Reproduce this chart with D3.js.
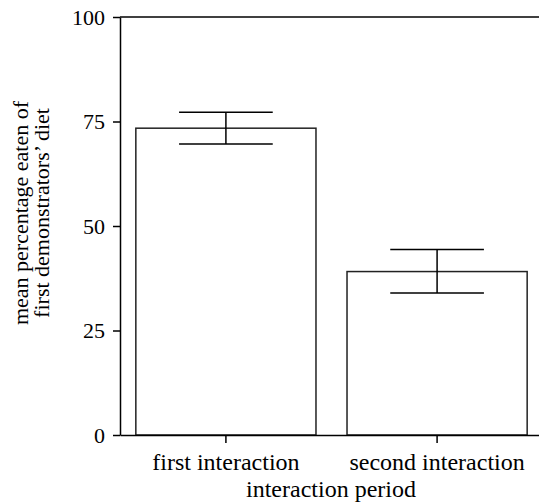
<!DOCTYPE html>
<html>
<head>
<meta charset="utf-8">
<script src="https://cdn.jsdelivr.net/npm/d3@7"></script>
<style>
    body { margin: 0; background: #fff; }
    svg { display: block; }
    .axis text { font-family: "Liberation Serif", "Times New Roman", serif; font-size: 22px; fill: #000; }
    .axis.x text { font-size: 24px; }
    .axis path, .axis line { stroke: #000; stroke-width: 1.5; }
    .label { font-family: "Liberation Serif", "Times New Roman", serif; font-size: 22px; fill: #000; }
</style>
</head>
<body>
<div id="chart"></div>
<script>
// Data
const categories = ["first interaction", "second interaction"];
const means = [73.4, 39.1];
const errLow = [69.6, 34.0];
const errHigh = [77.2, 44.4];
const yTicks = [0, 25, 50, 75, 100];

const dataset = categories.map((c, i) => ({
    category: c,
    mean: means[i],
    low: errLow[i],
    high: errHigh[i]
}));

// Dimensions
const width = 539;
const height = 503;
const plot = { left: 120, right: 543, top: 17, bottom: 435 };

const svg = d3.select("#chart")
    .append("svg")
    .attr("width", width)
    .attr("height", height);

// Scales
const xScale = d3.scaleBand()
    .domain(categories)
    .range([plot.left, plot.right])
    .paddingInner(0.147)
    .paddingOuter(0.075);

const yScale = d3.scaleLinear()
    .domain([0, 100])
    .range([plot.bottom, plot.top]);

// Top frame line
svg.append("line")
    .attr("x1", plot.left)
    .attr("x2", width)
    .attr("y1", yScale(100))
    .attr("y2", yScale(100))
    .attr("stroke", "#000")
    .attr("stroke-width", 1.5);

// Bars
svg.append("g")
    .selectAll("rect")
    .data(dataset)
    .join("rect")
        .attr("x", d => xScale(d.category))
        .attr("y", d => yScale(d.mean))
        .attr("width", xScale.bandwidth())
        .attr("height", d => yScale(0) - yScale(d.mean))
        .attr("fill", "#fff")
        .attr("stroke", "#222")
        .attr("stroke-width", 1.5);

// Error bars
const capHalf = xScale.bandwidth() * 0.26;
const errors = svg.append("g")
    .selectAll("g")
    .data(dataset)
    .join("g")
    .attr("stroke", "#000")
    .attr("stroke-width", 1.5);

errors.append("line")
    .attr("x1", d => xScale(d.category) + xScale.bandwidth() / 2)
    .attr("x2", d => xScale(d.category) + xScale.bandwidth() / 2)
    .attr("y1", d => yScale(d.high))
    .attr("y2", d => yScale(d.low));

errors.selectAll(".cap")
    .data(d => [d.high, d.low].map(v => ({ c: d.category, v })))
    .join("line")
    .attr("class", "cap")
    .attr("x1", d => xScale(d.c) + xScale.bandwidth() / 2 - capHalf)
    .attr("x2", d => xScale(d.c) + xScale.bandwidth() / 2 + capHalf)
    .attr("y1", d => yScale(d.v))
    .attr("y2", d => yScale(d.v));

// Axes
const yAxis = d3.axisLeft(yScale)
    .tickValues(yTicks)
    .tickSize(7)
    .tickPadding(8)
    .tickSizeOuter(0);

svg.append("g")
    .attr("class", "axis y")
    .attr("transform", `translate(${plot.left}, 0)`)
    .call(yAxis);

const xAxis = d3.axisBottom(xScale)
    .tickSize(8)
    .tickPadding(10)
    .tickSizeOuter(0);

svg.append("g")
    .attr("class", "axis x")
    .attr("transform", `translate(0, ${plot.bottom})`)
    .call(xAxis);

// Axis titles
svg.append("text")
    .attr("class", "label")
    .style("font-size", "24px")
    .attr("x", 331)
    .attr("y", 497)
    .attr("text-anchor", "middle")
    .text("interaction period");

const yTitle = svg.append("text")
    .attr("class", "label")
    .attr("transform", "translate(28, 213) rotate(-90)")
    .attr("text-anchor", "middle");

yTitle.append("tspan")
    .attr("x", 0)
    .attr("y", 0)
    .text("mean percentage eaten of");

yTitle.append("tspan")
    .attr("x", 0)
    .attr("y", 21)
    .text("first demonstrators’ diet");
</script>
</body>
</html>
